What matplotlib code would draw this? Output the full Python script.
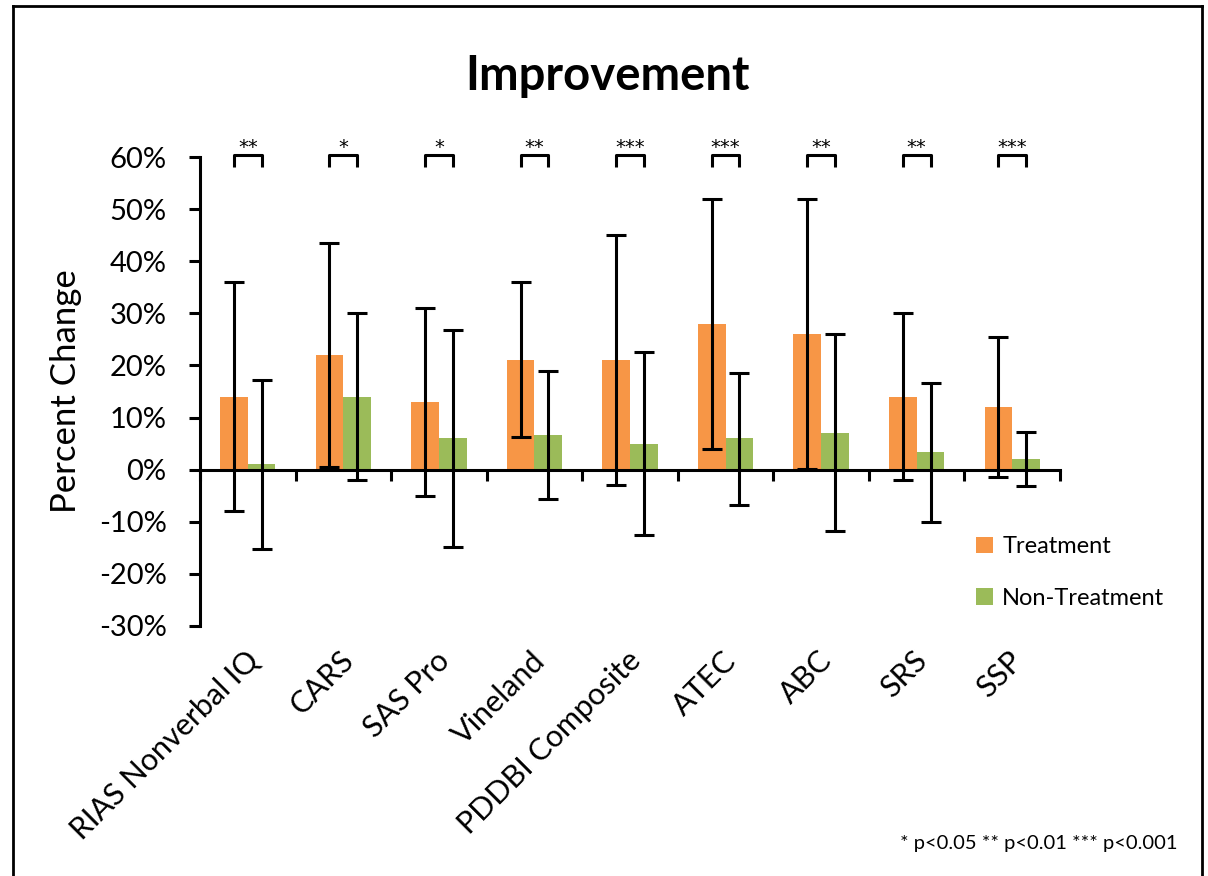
import numpy as np
import matplotlib
matplotlib.use("Agg")
import matplotlib.pyplot as plt
from matplotlib.patches import Patch
from matplotlib.lines import Line2D

plt.rcParams['font.family'] = ['Lato', 'DejaVu Sans']

# data (percent change)
measures = ['RIAS Nonverbal IQ', 'CARS', 'SAS Pro', 'Vineland', 'PDDBI Composite',
            'ATEC', 'ABC', 'SRS', 'SSP']
treat = [14, 22, 13, 21, 21, 28, 26, 14, 12]
treat_hi = [36, 43.5, 31, 36, 45, 52, 52, 30, 25.5]
treat_lo = [-8, 0.5, -5, 6.2, -3, 4, 0.2, -2, -1.5]
nontreat = [1, 14, 6, 6.7, 5, 6, 7, 3.3, 2]
nontreat_hi = [17.2, 30, 26.8, 19, 22.5, 18.6, 26, 16.6, 7.3]
nontreat_lo = [-15.2, -2, -14.8, -5.6, -12.6, -6.7, -11.8, -10, -3.2]
stars = ['**', '*', '*', '**', '***', '***', '**', '**', '***']

orange = '#F79646'
green = '#9BBB59'

fig = plt.figure(figsize=(12.08, 8.76), dpi=100)
ax = fig.add_axes([200/1208, 1-626/876, 860/1208, 469/876])

x = np.arange(len(measures))
w = 0.29
t = np.array(treat)
n = np.array(nontreat)
ax.bar(x - w/2, t, w, color=orange, zorder=2)
ax.bar(x + w/2, n, w, color=green, zorder=2)
ax.errorbar(x - w/2, t, yerr=[t - np.array(treat_lo), np.array(treat_hi) - t],
            fmt='none', ecolor='black', elinewidth=2.2, capsize=7, capthick=2.2, zorder=3)
ax.errorbar(x + w/2, n, yerr=[n - np.array(nontreat_lo), np.array(nontreat_hi) - n],
            fmt='none', ecolor='black', elinewidth=2.2, capsize=7, capthick=2.2, zorder=3)

# significance brackets
for i, s in enumerate(stars):
    ax.plot([i - w/2, i - w/2, i + w/2, i + w/2], [58.0, 60.4, 60.4, 58.0],
            color='black', lw=2.2, clip_on=False, solid_capstyle='butt')
    ax.text(i, 60.8, s, ha='center', va='baseline', fontsize=14,
            family='DejaVu Sans', clip_on=False)

ax.set_xlim(-0.5, len(measures) - 0.5)
ax.set_ylim(-30, 60)
ax.set_yticks(np.arange(-30, 61, 10))
ax.set_yticklabels(['%d%%' % v for v in np.arange(-30, 61, 10)], fontsize=21)
ax.set_ylabel('Percent Change', fontsize=25, labelpad=12)

ax.spines['top'].set_visible(False)
ax.spines['right'].set_visible(False)
ax.spines['bottom'].set_position(('data', 0))
for sp in ['left', 'bottom']:
    ax.spines[sp].set_linewidth(2.2)
ax.set_xticks(np.arange(-0.5, len(measures), 1.0))
ax.set_xticklabels([])
ax.tick_params(axis='both', direction='out', length=8, width=2.2)
ax.tick_params(axis='y', pad=16)

# category labels below plot
for i, m in enumerate(measures):
    ax.annotate(m, xy=(i, 0), xycoords=('data', 'axes fraction'),
                xytext=(6, -30), textcoords='offset pixels',
                ha='right', va='center', rotation=45, rotation_mode='anchor',
                fontsize=22)

fig.text(0.503, 0.913, 'Improvement', ha='center', va='center', fontsize=34, fontweight='bold')

handles = [Patch(facecolor=orange), Patch(facecolor=green)]
fig.legend(handles, ['Treatment', 'Non-Treatment'], loc='upper left',
           bbox_to_anchor=(955/1208, 1-515/876), frameon=False, fontsize=17,
           handlelength=0.7, handleheight=0.7, handletextpad=0.4, labelspacing=1.3)

fig.text(1178/1208, 1-843/876, '* p<0.05 ** p<0.01 *** p<0.001', ha='right', va='center', fontsize=14.5)

# outer frame
fig.add_artist(Line2D([13/1208, 13/1208], [0, 1-6/876], color='black', lw=2))
fig.add_artist(Line2D([13/1208, 1202/1208], [1-6/876, 1-6/876], color='black', lw=2))
fig.add_artist(Line2D([1202/1208, 1202/1208], [0, 1-6/876], color='black', lw=2))

fig.savefig('out.png', dpi=100)
